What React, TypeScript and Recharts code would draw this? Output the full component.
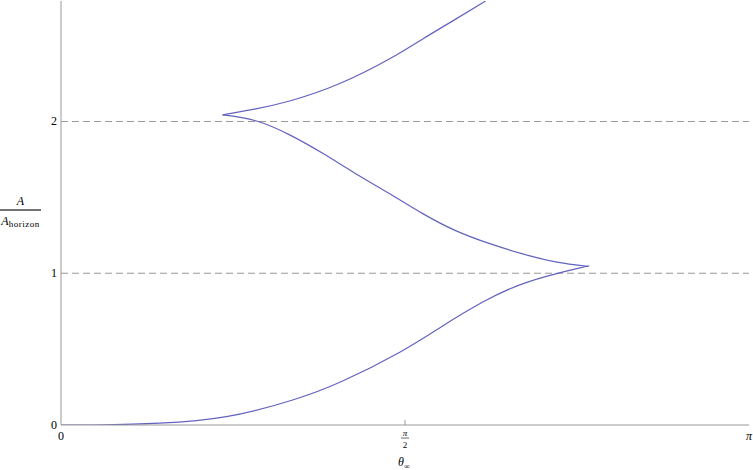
import React from 'react';
import { LineChart, Line, XAxis, YAxis, ReferenceLine } from 'recharts';

// branch of A/A_horizon below the first cusp
const lowerTheta = [0, 0.2, 0.45, 0.755, 1.058, 1.286, 1.547, 1.743, 1.926, 2.127, 2.369, 2.405];
const lowerA = [0, 0.001, 0.012, 0.055, 0.165, 0.29, 0.48, 0.653, 0.81, 0.94, 1.035, 1.045];

// branch between the two cusps
const middleTheta = [0.738, 0.889, 1.044, 1.195, 1.346, 1.501, 1.652, 1.802, 1.958, 2.108, 2.259, 2.405];
const middleA = [2.044, 2.005, 1.912, 1.79, 1.656, 1.524, 1.393, 1.281, 1.195, 1.128, 1.075, 1.045];

// branch going up from the left cusp
const upperTheta = [0.738, 0.814, 0.889, 1.044, 1.273, 1.501, 1.652, 1.789, 1.939];
const upperA = [2.044, 2.063, 2.083, 2.135, 2.25, 2.413, 2.544, 2.663, 2.794];

const xTicks = [0, Math.PI / 2, Math.PI];
const xTickLabels = ['0', 'π/2', 'π'];
const yTicks = [0, 1, 2];
const dashedLevels = [1, 2];

const Y_MAX = 2.794;
const LINE = '#6363c0';
const FRAME = '#999';
const FONT = '"Times New Roman", "Liberation Serif", "DejaVu Serif", serif';

const toPoints = (xs: number[], ys: number[]) => xs.map((x, i) => ({ x, y: ys[i] }));

const lower = toPoints(lowerTheta, lowerA);
const middle = toPoints(middleTheta, middleA);
const upper = toPoints(upperTheta, upperA);

function XTick(props: any) {
  const { x, y, index } = props;
  const label = xTickLabels[index];
  if (label === 'π/2') {
    return (
      <g>
        <line x1={x} y1={y} x2={x} y2={y - 5} stroke={FRAME} />
        <text x={x} y={y + 11} textAnchor="middle" style={{ fontFamily: FONT }} fontStyle="italic" fontSize={9} fill="#000">π</text>
        <line x1={x - 4} y1={y + 13} x2={x + 4} y2={y + 13} stroke="#000" strokeWidth={0.6} />
        <text x={x} y={y + 23} textAnchor="middle" style={{ fontFamily: FONT }} fontSize={9} fill="#000">2</text>
      </g>
    );
  }
  return (
    <text x={x} y={y + 15} textAnchor="middle" style={{ fontFamily: FONT }} fontStyle={label === 'π' ? 'italic' : 'normal'} fontSize={12} fill="#000">
      {label}
    </text>
  );
}

function YTick(props: any) {
  const { x, y, payload } = props;
  return (
    <text x={x - 4} y={y + 4} textAnchor="end" style={{ fontFamily: FONT }} fontSize={12} fill="#000">
      {payload.value}
    </text>
  );
}

export default function App() {
  return (
    <div style={{ position: 'absolute', left: 0, top: 0, width: 753, height: 470, background: '#fff', fontFamily: FONT }}>
      <LineChart width={753} height={470} margin={{ top: 1, right: 4, bottom: 0, left: 0 }}>
        <XAxis
          xAxisId="b"
          type="number"
          dataKey="x"
          domain={[0, Math.PI]}
          ticks={xTicks}
          interval={0}
          tick={<XTick />}
          tickLine={false}
          tickSize={0}
          tickMargin={0}
          height={45}
          axisLine={{ stroke: FRAME }}
          allowDataOverflow
        />
        <XAxis xAxisId="t" orientation="top" type="number" domain={[0, Math.PI]} height={0} tick={false} tickLine={false} axisLine={{ stroke: FRAME }} />
        <YAxis
          yAxisId="l"
          type="number"
          domain={[0, Y_MAX]}
          ticks={yTicks}
          interval={0}
          tick={<YTick />}
          tickLine={false}
          tickSize={0}
          tickMargin={0}
          width={61}
          axisLine={{ stroke: FRAME }}
          allowDataOverflow
        />
        <YAxis yAxisId="r" orientation="right" type="number" domain={[0, Y_MAX]} width={0} tick={false} tickLine={false} axisLine={{ stroke: FRAME }} />
        {dashedLevels.map((v) => (
          <ReferenceLine key={v} xAxisId="b" yAxisId="l" y={v} stroke={FRAME} strokeDasharray="7 4" />
        ))}
        <Line xAxisId="b" yAxisId="l" data={lower} dataKey="y" type="natural" stroke={LINE} strokeWidth={1.2} dot={false} isAnimationActive={false} />
        <Line xAxisId="b" yAxisId="l" data={middle} dataKey="y" type="natural" stroke={LINE} strokeWidth={1.2} dot={false} isAnimationActive={false} />
        <Line xAxisId="b" yAxisId="l" data={upper} dataKey="y" type="natural" stroke={LINE} strokeWidth={1.2} dot={false} isAnimationActive={false} />
      </LineChart>
      <div style={{ position: 'absolute', left: 0, top: 193, width: 41, textAlign: 'center', fontSize: 12 }}>
        <div style={{ fontStyle: 'italic', lineHeight: '16px' }}>A</div>
        <div style={{ borderTop: '2px solid #000', opacity: 0.55 }} />
        <div style={{ lineHeight: '20px', whiteSpace: 'nowrap' }}>
          <span style={{ fontStyle: 'italic' }}>A</span>
          <span style={{ fontSize: 9, position: 'relative', top: 2, letterSpacing: 0.5 }}>horizon</span>
        </div>
      </div>
      <div style={{ position: 'absolute', left: 398, top: 455, fontSize: 12 }}>
        <span style={{ fontStyle: 'italic' }}>θ</span>
        <span style={{ fontSize: 8, position: 'relative', top: 3 }}>∞</span>
      </div>
    </div>
  );
}
